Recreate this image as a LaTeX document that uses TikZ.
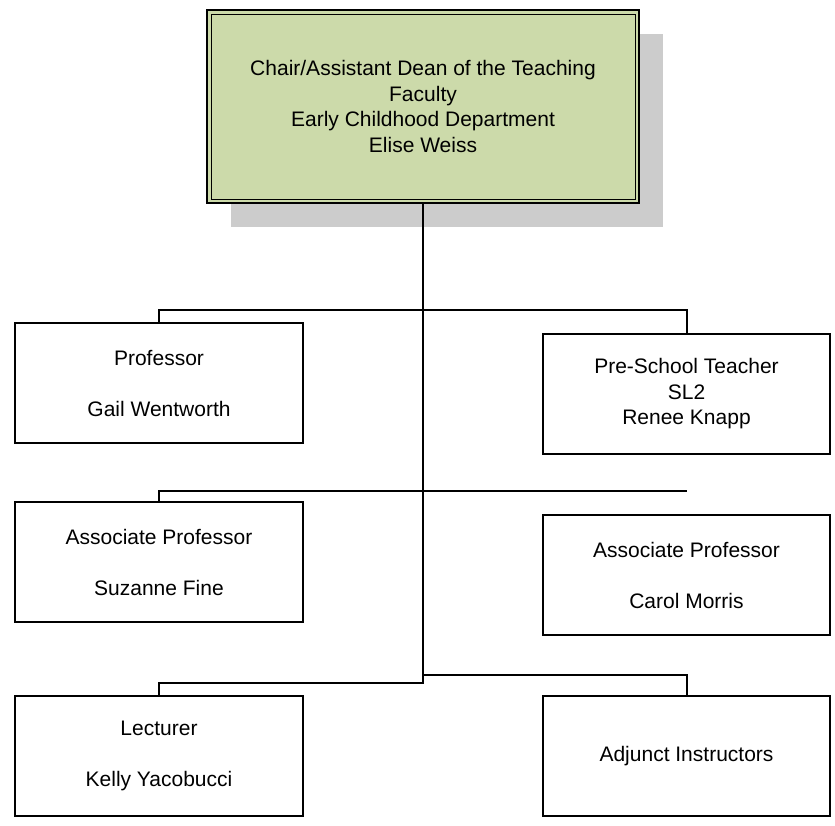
\documentclass[tikz,border=0pt]{standalone}
\usepackage{fontspec}
\setmainfont{Liberation Sans}
\usetikzlibrary{shadows}
\definecolor{chairgreen}{RGB}{204,218,170}
\definecolor{shadowgray}{RGB}{204,204,204}
\begin{document}
\begin{tikzpicture}[x=1pt,y=-1pt,
  post/.style={draw,line width=2pt,minimum width=288pt,minimum height=120pt,
    inner sep=0pt,align=center,font=\fontsize{21}{25.5}\selectfont},
  link/.style={line width=2pt}]
\useasboundingbox (0,0) rectangle (835,825);
% head of department, with its grey shadow and double frame
\node[post,minimum width=432pt,minimum height=193pt,fill=chairgreen,
  drop shadow={shadow xshift=24pt,shadow yshift=-24pt,fill=shadowgray,opacity=1}]
  (chair) at (423,106.5) {Chair/Assistant Dean of the Teaching\\Faculty\\
  Early Childhood Department\\Elise Weiss};
\draw[line width=1pt] ([xshift=5pt,yshift=-5pt]chair.north west)
  rectangle ([xshift=-5pt,yshift=5pt]chair.south east);
\node[post] (prof) at (159,383) {Professor\\[\baselineskip]Gail Wentworth};
\node[post,minimum width=287pt] (teacher) at (686.5,394) {Pre-School Teacher\\SL2\\Renee Knapp};
\node[post] (assocfine) at (159,562) {Associate Professor\\[\baselineskip]Suzanne Fine};
\node[post,minimum width=287pt] (assocmorris) at (686.5,575) {Associate Professor\\[\baselineskip]Carol Morris};
\node[post] (lect) at (159,756) {Lecturer\\[\baselineskip]Kelly Yacobucci};
\node[post,minimum width=287pt] (adjunct) at (686.5,756) {Adjunct Instructors};
\coordinate (trunkend) at (423,683);
\coordinate (split) at (423,675);
\coordinate (rowtwoend) at (687,491);
\draw[link] (chair.south) -- (trunkend) -| (lect.north);
\draw[link] (split) -| (adjunct.north);
\draw[link] (prof.north) -- ++(0,-12) -| (teacher.north);
\draw[link] (assocfine.north) |- (rowtwoend);
\end{tikzpicture}
\end{document}
